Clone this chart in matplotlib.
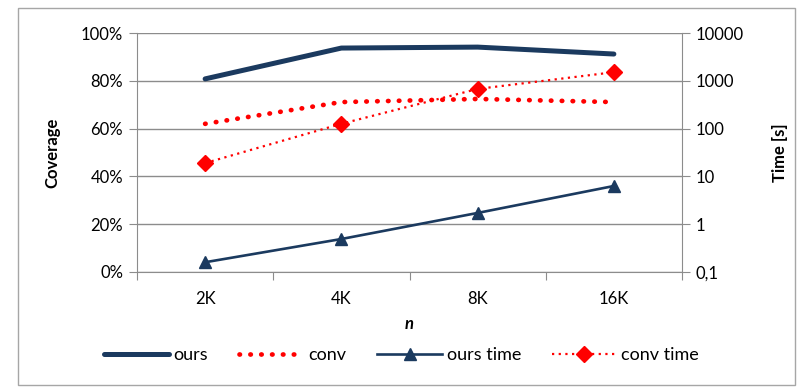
import numpy as np
import matplotlib.pyplot as plt
from matplotlib.ticker import FixedLocator, FixedFormatter, NullLocator

plt.rcParams['font.family'] = ['Lato', 'DejaVu Sans']

# data
categories = ['2K', '4K', '8K', '16K']
ours_cov = [80.8, 93.7, 94.1, 91.2]
conv_cov = [62.0, 71.1, 72.4, 71.1]
ours_time = [0.16, 0.49, 1.72, 6.3]
conv_time = [19.0, 126.0, 676.0, 1514.0]

navy = '#1B3A5F'
red = '#FF0000'
grey = '#8C8C8C'

fig = plt.figure(figsize=(8.03, 3.92), dpi=100)
# outer chart border
fig.patches.append(plt.Rectangle((0.022, 0.018), 0.968, 0.962, transform=fig.transFigure,
                                 fill=False, edgecolor='#A6A6A6', lw=1))

ax = fig.add_axes([137 / 803, 1 - 272 / 392, 545 / 803, 239 / 392])
x = np.arange(len(categories))

l1, = ax.plot(x, ours_cov, color=navy, lw=3.6, solid_capstyle='round', label='ours')
l2, = ax.plot(x, conv_cov, color=red, lw=3.4, linestyle=(0, (0.1, 2.2)),
              dash_capstyle='round', label='conv')
ax.set_ylim(0, 100)
ax.set_xlim(-0.5, 3.5)
ax.set_yticks(np.arange(0, 101, 20))
ax.set_yticklabels([f'{v}%' for v in range(0, 101, 20)])
ax.yaxis.grid(True, color=grey, lw=1)
ax.set_axisbelow(True)

ax.xaxis.set_major_locator(FixedLocator(np.arange(-0.5, 4, 1)))
ax.xaxis.set_major_formatter(FixedFormatter([''] * 5))
ax.xaxis.set_minor_locator(FixedLocator(x))
ax.xaxis.set_minor_formatter(FixedFormatter(categories))
ax.tick_params(axis='x', which='major', length=6, color=grey, direction='out')
ax.tick_params(axis='x', which='minor', length=0, pad=14, labelsize=12)
ax.tick_params(axis='y', length=6, color=grey, labelsize=12, pad=4)

for s in ['top', 'right']:
    ax.spines[s].set_visible(False)
ax.spines['left'].set_color(grey)
ax.spines['bottom'].set_color(grey)

ax.set_ylabel('Coverage', fontsize=12, fontweight='bold', labelpad=15)
ax.set_xlabel('n', fontsize=12, fontweight='bold', style='italic', labelpad=6)

ax2 = ax.twinx()
ax2.set_yscale('log')
ax2.set_ylim(0.1, 10000)
l3, = ax2.plot(x, ours_time, color=navy, lw=1.9, marker='^', markersize=9, label='ours time')
l4, = ax2.plot(x, conv_time, color=red, lw=1.6, linestyle=(0, (1, 2)), marker='D',
               markersize=8, label='conv time')
tvals = [0.1, 1, 10, 100, 1000, 10000]
ax2.yaxis.set_major_locator(FixedLocator(tvals))
ax2.yaxis.set_major_formatter(FixedFormatter(['0,1', '1', '10', '100', '1000', '10000']))
ax2.yaxis.set_minor_locator(NullLocator())
ax2.tick_params(axis='y', length=6, color=grey, labelsize=12, pad=4)
for s in ['top', 'left', 'bottom']:
    ax2.spines[s].set_visible(False)
ax2.spines['right'].set_color(grey)
ax2.set_ylabel('Time [s]', fontsize=12, fontweight='bold', labelpad=20)

fig.legend(handles=[l1, l2, l3, l4], loc='center', bbox_to_anchor=(0.5, 1 - 355 / 392),
           ncol=4, frameon=False, fontsize=13, handlelength=3.6, handletextpad=0.25,
           columnspacing=1.7)

fig.savefig('out.png', dpi=100)
